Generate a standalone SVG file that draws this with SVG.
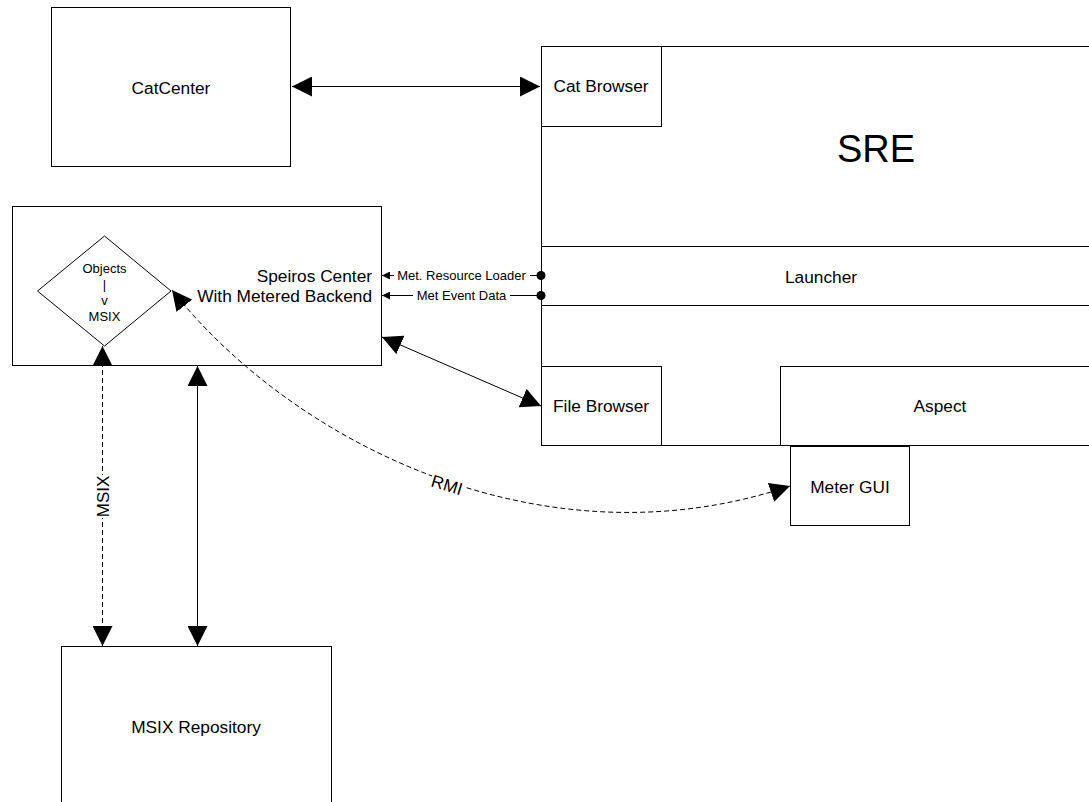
<svg xmlns="http://www.w3.org/2000/svg" width="1089" height="802" viewBox="0 0 1089 802">
<style>
.box{fill:#fff;stroke:#000;stroke-width:1}
.ln{fill:none;stroke:#000;stroke-width:1}
.dash{fill:none;stroke:#000;stroke-width:1;stroke-dasharray:5,3}
.t{font-family:"Liberation Sans",Arial,sans-serif;font-size:17.3px;fill:#000;text-anchor:middle}
.s{font-family:"Liberation Sans",Arial,sans-serif;font-size:13px;fill:#000;text-anchor:middle}
.bg{fill:#fff;stroke:none}
</style>
<defs>
<marker id="arr" viewBox="0 0 20 20" markerWidth="20" markerHeight="20" refX="20" refY="10" orient="auto-start-reverse" markerUnits="userSpaceOnUse">
<path d="M0,0 L20,10 L0,20 z" fill="#000"/>
</marker>
<marker id="sarr" viewBox="0 0 8 8" markerWidth="8" markerHeight="8" refX="8" refY="4" orient="auto-start-reverse" markerUnits="userSpaceOnUse">
<path d="M0,0 L8,4 L0,8 z" fill="#000"/>
</marker>
<marker id="dot" viewBox="0 0 10 10" markerWidth="10" markerHeight="10" refX="5" refY="5" markerUnits="userSpaceOnUse">
<circle cx="5" cy="5" r="4.5" fill="#000"/>
</marker>
</defs>
<rect width="1089" height="802" fill="#fff"/>

<g id="catcenter">
<rect class="box" x="51.5" y="7.5" width="239" height="159"/>
<text class="t" x="171" y="94">CatCenter</text>
</g>

<g id="sre">
<rect class="box" x="541.5" y="46.5" width="560" height="399"/>
<line class="ln" x1="541.5" y1="246.5" x2="1102" y2="246.5" stroke="#444"/>
<line class="ln" x1="541.5" y1="305.5" x2="1102" y2="305.5" stroke="#444"/>
<text class="t" x="876" y="161.5" style="font-size:38px">SRE</text>
</g>

<g id="catbrowser">
<rect class="box" x="541.5" y="46.5" width="120" height="80"/>
<text class="t" x="601" y="92">Cat Browser</text>
</g>

<g id="launcher">
<text class="t" x="821" y="283">Launcher</text>
</g>

<g id="filebrowser">
<rect class="box" x="541.5" y="366.5" width="120" height="79"/>
<text class="t" x="601" y="411.5">File Browser</text>
</g>

<g id="aspect">
<rect class="box" x="780.5" y="366.5" width="320" height="79"/>
<text class="t" x="940" y="411.5">Aspect</text>
</g>

<g id="metergui">
<rect class="box" x="790.5" y="446.5" width="119" height="79"/>
<text class="t" x="850" y="493">Meter GUI</text>
</g>

<g id="speiros">
<rect class="box" x="12.5" y="206.5" width="369" height="159"/>
<text class="t" x="372" y="281.5" style="text-anchor:end">Speiros Center</text>
<text class="t" x="372" y="301.5" style="text-anchor:end">With Metered Backend</text>
</g>

<g id="objects-msix">
<polygon class="box" points="104.5,236 171,291 104.5,346 37.5,291"/>
<text class="s" x="104.5" y="273">Objects</text>
<text class="s" x="104.5" y="289">|</text>
<text class="s" x="104.5" y="305">v</text>
<text class="s" x="104.5" y="321">MSIX</text>
</g>

<g id="msixrepo">
<rect class="box" x="61.5" y="646.5" width="270" height="200"/>
<text class="t" x="196" y="733">MSIX Repository</text>
</g>

<g id="connectors">
<line class="ln" x1="292" y1="86.5" x2="540" y2="86.5" marker-start="url(#arr)" marker-end="url(#arr)"/>
<line class="ln" x1="382" y1="337" x2="541" y2="406" marker-start="url(#arr)" marker-end="url(#arr)"/>
<line class="ln" x1="197.5" y1="366" x2="197.5" y2="646" marker-start="url(#arr)" marker-end="url(#arr)"/>
<line class="dash" x1="102.5" y1="346" x2="102.5" y2="646" marker-start="url(#arr)" marker-end="url(#arr)"/>
<rect class="bg" x="94" y="475" width="17" height="43"/>
<text class="t" x="0" y="0" transform="translate(108.5,496.5) rotate(-90)" style="font-size:17px">MSIX</text>

<line class="ln" x1="541" y1="275.5" x2="382" y2="275.5" marker-start="url(#dot)" marker-end="url(#sarr)"/>
<rect class="bg" x="394" y="268" width="136" height="15"/>
<text class="s" x="461.5" y="280">Met. Resource Loader</text>
<line class="ln" x1="541" y1="295.5" x2="382" y2="295.5" marker-start="url(#dot)" marker-end="url(#sarr)"/>
<rect class="bg" x="413" y="288" width="97" height="15"/>
<text class="s" x="461.5" y="300">Met Event Data</text>

<path class="dash" d="M172,290 C290,440 540,570 790,486" marker-start="url(#arr)" marker-end="url(#arr)"/>
<g transform="translate(447,485) rotate(17)">
<rect class="bg" x="-17" y="-9" width="34" height="18"/>
<text class="t" x="0" y="6">RMI</text>
</g>
</g>
</svg>
